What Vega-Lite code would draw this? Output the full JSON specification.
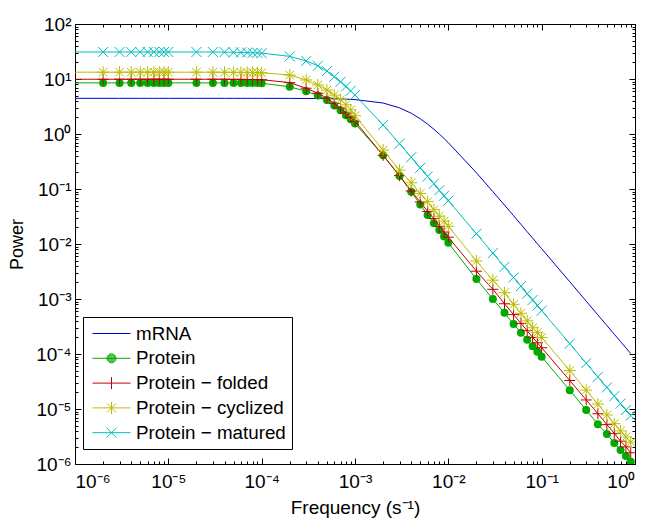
{
  "$schema": "https://vega.github.io/schema/vega-lite/v6.json",
  "width": 560,
  "height": 440,
  "autosize": {"type": "none"},
  "padding": {"left": 75, "top": 24, "right": 14, "bottom": 56},
  "background": "white",
  "config": {
    "view": {"stroke": "#000", "strokeWidth": 1},
    "font": "Liberation Sans",
    "axis": {"labelFont": "Liberation Sans", "labelFontSize": 18, "labelColor": "#000", "titleFont": "Liberation Sans", "titleFontSize": 18, "titleFontWeight": "normal", "titleColor": "#000", "grid": false, "domain": false, "tickColor": "#000", "tickWidth": 1}
  },
  "datasets": {
    "mrna": [
      {"s":"mRNA","f":1e-6,"p":4.45},{"s":"mRNA","f":2e-6,"p":4.45},{"s":"mRNA","f":3e-6,"p":4.45},{"s":"mRNA","f":4e-6,"p":4.45},{"s":"mRNA","f":5e-6,"p":4.45},{"s":"mRNA","f":6e-6,"p":4.45},{"s":"mRNA","f":7e-6,"p":4.45},{"s":"mRNA","f":8e-6,"p":4.45},{"s":"mRNA","f":9e-6,"p":4.45},
      {"s":"mRNA","f":1e-5,"p":4.45},{"s":"mRNA","f":2e-5,"p":4.45},{"s":"mRNA","f":3e-5,"p":4.45},{"s":"mRNA","f":4e-5,"p":4.45},{"s":"mRNA","f":5e-5,"p":4.45},{"s":"mRNA","f":6e-5,"p":4.45},{"s":"mRNA","f":7e-5,"p":4.45},{"s":"mRNA","f":8e-5,"p":4.45},{"s":"mRNA","f":9e-5,"p":4.45},
      {"s":"mRNA","f":1e-4,"p":4.45},{"s":"mRNA","f":2e-4,"p":4.44},{"s":"mRNA","f":3e-4,"p":4.43},{"s":"mRNA","f":4e-4,"p":4.41},{"s":"mRNA","f":5e-4,"p":4.39},{"s":"mRNA","f":6e-4,"p":4.36},{"s":"mRNA","f":7e-4,"p":4.34},{"s":"mRNA","f":8e-4,"p":4.30},{"s":"mRNA","f":9e-4,"p":4.26},
      {"s":"mRNA","f":1e-3,"p":4.22},{"s":"mRNA","f":2e-3,"p":3.66},{"s":"mRNA","f":3e-3,"p":2.99},{"s":"mRNA","f":4e-3,"p":2.39},{"s":"mRNA","f":5e-3,"p":1.89},{"s":"mRNA","f":6e-3,"p":1.51},{"s":"mRNA","f":7e-3,"p":1.22},{"s":"mRNA","f":8e-3,"p":0.998},{"s":"mRNA","f":9e-3,"p":0.827},
      {"s":"mRNA","f":1e-2,"p":0.694},{"s":"mRNA","f":2e-2,"p":0.197},{"s":"mRNA","f":3e-2,"p":0.0895},{"s":"mRNA","f":4e-2,"p":0.0509},{"s":"mRNA","f":5e-2,"p":0.0327},{"s":"mRNA","f":6e-2,"p":0.0227},{"s":"mRNA","f":7e-2,"p":0.0167},{"s":"mRNA","f":8e-2,"p":0.0128},{"s":"mRNA","f":9e-2,"p":0.0101},
      {"s":"mRNA","f":0.1,"p":0.00821},{"s":"mRNA","f":0.2,"p":0.00206},{"s":"mRNA","f":0.3,"p":0.000914},{"s":"mRNA","f":0.4,"p":0.000514},{"s":"mRNA","f":0.5,"p":0.000329},{"s":"mRNA","f":0.6,"p":0.000229},{"s":"mRNA","f":0.7,"p":0.000168},{"s":"mRNA","f":0.8,"p":0.000129},{"s":"mRNA","f":0.9,"p":0.000102}
    ],
    "protein": [
      {"s":"Protein","f":1e-6,"p":8.5},{"s":"Protein","f":2e-6,"p":8.5},{"s":"Protein","f":3e-6,"p":8.5},{"s":"Protein","f":4e-6,"p":8.5},{"s":"Protein","f":5e-6,"p":8.5},{"s":"Protein","f":6e-6,"p":8.5},{"s":"Protein","f":7e-6,"p":8.5},{"s":"Protein","f":8e-6,"p":8.5},{"s":"Protein","f":9e-6,"p":8.5},
      {"s":"Protein","f":1e-5,"p":8.5},{"s":"Protein","f":2e-5,"p":8.5},{"s":"Protein","f":3e-5,"p":8.5},{"s":"Protein","f":4e-5,"p":8.5},{"s":"Protein","f":5e-5,"p":8.5},{"s":"Protein","f":6e-5,"p":8.5},{"s":"Protein","f":7e-5,"p":8.5},{"s":"Protein","f":8e-5,"p":8.45},{"s":"Protein","f":9e-5,"p":8.45},
      {"s":"Protein","f":1e-4,"p":8.4},{"s":"Protein","f":2e-4,"p":7.2},{"s":"Protein","f":3e-4,"p":6.0},{"s":"Protein","f":4e-4,"p":5.0},{"s":"Protein","f":5e-4,"p":4.15},{"s":"Protein","f":6e-4,"p":3.3},{"s":"Protein","f":7e-4,"p":2.7},{"s":"Protein","f":8e-4,"p":2.2},{"s":"Protein","f":9e-4,"p":1.85},
      {"s":"Protein","f":1e-3,"p":1.55},{"s":"Protein","f":2e-3,"p":0.41},{"s":"Protein","f":3e-3,"p":0.172},{"s":"Protein","f":4e-3,"p":0.089},{"s":"Protein","f":5e-3,"p":0.052},{"s":"Protein","f":6e-3,"p":0.0336},{"s":"Protein","f":7e-3,"p":0.0238},{"s":"Protein","f":8e-3,"p":0.018},{"s":"Protein","f":9e-3,"p":0.0137},
      {"s":"Protein","f":1e-2,"p":0.0105},{"s":"Protein","f":2e-2,"p":0.0023},{"s":"Protein","f":3e-2,"p":0.001},{"s":"Protein","f":4e-2,"p":0.00056},{"s":"Protein","f":5e-2,"p":0.00035},{"s":"Protein","f":6e-2,"p":0.000244},{"s":"Protein","f":7e-2,"p":0.000182},{"s":"Protein","f":8e-2,"p":0.000138},{"s":"Protein","f":9e-2,"p":0.00011},
      {"s":"Protein","f":0.1,"p":0.000089},{"s":"Protein","f":0.2,"p":0.000022},{"s":"Protein","f":0.3,"p":0.0000096},{"s":"Protein","f":0.4,"p":0.0000053},{"s":"Protein","f":0.5,"p":0.0000035},{"s":"Protein","f":0.6,"p":0.0000024},{"s":"Protein","f":0.7,"p":0.0000018},{"s":"Protein","f":0.8,"p":0.0000014},{"s":"Protein","f":0.9,"p":0.0000011}
    ],
    "folded": [
      {"s":"Protein − folded","f":1e-6,"p":9.9},{"s":"Protein − folded","f":2e-6,"p":9.9},{"s":"Protein − folded","f":3e-6,"p":9.9},{"s":"Protein − folded","f":4e-6,"p":9.9},{"s":"Protein − folded","f":5e-6,"p":9.9},{"s":"Protein − folded","f":6e-6,"p":9.9},{"s":"Protein − folded","f":7e-6,"p":9.9},{"s":"Protein − folded","f":8e-6,"p":9.9},{"s":"Protein − folded","f":9e-6,"p":9.9},
      {"s":"Protein − folded","f":1e-5,"p":9.9},{"s":"Protein − folded","f":2e-5,"p":9.9},{"s":"Protein − folded","f":3e-5,"p":9.9},{"s":"Protein − folded","f":4e-5,"p":9.9},{"s":"Protein − folded","f":5e-5,"p":9.85},{"s":"Protein − folded","f":6e-5,"p":9.85},{"s":"Protein − folded","f":7e-5,"p":9.8},{"s":"Protein − folded","f":8e-5,"p":9.8},{"s":"Protein − folded","f":9e-5,"p":9.75},
      {"s":"Protein − folded","f":1e-4,"p":9.7},{"s":"Protein − folded","f":2e-4,"p":8.6},{"s":"Protein − folded","f":3e-4,"p":6.8},{"s":"Protein − folded","f":4e-4,"p":5.5},{"s":"Protein − folded","f":5e-4,"p":4.5},{"s":"Protein − folded","f":6e-4,"p":3.6},{"s":"Protein − folded","f":7e-4,"p":2.95},{"s":"Protein − folded","f":8e-4,"p":2.4},{"s":"Protein − folded","f":9e-4,"p":2.0},
      {"s":"Protein − folded","f":1e-3,"p":1.7},{"s":"Protein − folded","f":2e-3,"p":0.41},{"s":"Protein − folded","f":3e-3,"p":0.175},{"s":"Protein − folded","f":4e-3,"p":0.092},{"s":"Protein − folded","f":5e-3,"p":0.058},{"s":"Protein − folded","f":6e-3,"p":0.039},{"s":"Protein − folded","f":7e-3,"p":0.029},{"s":"Protein − folded","f":8e-3,"p":0.021},{"s":"Protein − folded","f":9e-3,"p":0.0165},
      {"s":"Protein − folded","f":1e-2,"p":0.0133},{"s":"Protein − folded","f":2e-2,"p":0.0032},{"s":"Protein − folded","f":3e-2,"p":0.0015},{"s":"Protein − folded","f":4e-2,"p":0.00082},{"s":"Protein − folded","f":5e-2,"p":0.00052},{"s":"Protein − folded","f":6e-2,"p":0.00036},{"s":"Protein − folded","f":7e-2,"p":0.000265},{"s":"Protein − folded","f":8e-2,"p":0.0002},{"s":"Protein − folded","f":9e-2,"p":0.00016},
      {"s":"Protein − folded","f":0.1,"p":0.00013},{"s":"Protein − folded","f":0.2,"p":0.000033},{"s":"Protein − folded","f":0.3,"p":0.0000146},{"s":"Protein − folded","f":0.4,"p":0.0000082},{"s":"Protein − folded","f":0.5,"p":0.0000052},{"s":"Protein − folded","f":0.6,"p":0.0000036},{"s":"Protein − folded","f":0.7,"p":0.0000026},{"s":"Protein − folded","f":0.8,"p":0.00000205},{"s":"Protein − folded","f":0.9,"p":0.0000016}
    ],
    "cyclized": [
      {"s":"Protein − cyclized","f":1e-6,"p":13.3},{"s":"Protein − cyclized","f":2e-6,"p":13.3},{"s":"Protein − cyclized","f":3e-6,"p":13.3},{"s":"Protein − cyclized","f":4e-6,"p":13.3},{"s":"Protein − cyclized","f":5e-6,"p":13.3},{"s":"Protein − cyclized","f":6e-6,"p":13.3},{"s":"Protein − cyclized","f":7e-6,"p":13.3},{"s":"Protein − cyclized","f":8e-6,"p":13.3},{"s":"Protein − cyclized","f":9e-6,"p":13.3},
      {"s":"Protein − cyclized","f":1e-5,"p":13.3},{"s":"Protein − cyclized","f":2e-5,"p":13.3},{"s":"Protein − cyclized","f":3e-5,"p":13.3},{"s":"Protein − cyclized","f":4e-5,"p":13.25},{"s":"Protein − cyclized","f":5e-5,"p":13.2},{"s":"Protein − cyclized","f":6e-5,"p":13.2},{"s":"Protein − cyclized","f":7e-5,"p":13.15},{"s":"Protein − cyclized","f":8e-5,"p":13.1},{"s":"Protein − cyclized","f":9e-5,"p":13.05},
      {"s":"Protein − cyclized","f":1e-4,"p":13.0},{"s":"Protein − cyclized","f":2e-4,"p":11.8},{"s":"Protein − cyclized","f":3e-4,"p":9.6},{"s":"Protein − cyclized","f":4e-4,"p":7.8},{"s":"Protein − cyclized","f":5e-4,"p":6.3},{"s":"Protein − cyclized","f":6e-4,"p":5.1},{"s":"Protein − cyclized","f":7e-4,"p":4.2},{"s":"Protein − cyclized","f":8e-4,"p":3.4},{"s":"Protein − cyclized","f":9e-4,"p":2.75},
      {"s":"Protein − cyclized","f":1e-3,"p":2.15},{"s":"Protein − cyclized","f":2e-3,"p":0.51},{"s":"Protein − cyclized","f":3e-3,"p":0.22},{"s":"Protein − cyclized","f":4e-3,"p":0.13},{"s":"Protein − cyclized","f":5e-3,"p":0.083},{"s":"Protein − cyclized","f":6e-3,"p":0.059},{"s":"Protein − cyclized","f":7e-3,"p":0.042},{"s":"Protein − cyclized","f":8e-3,"p":0.032},{"s":"Protein − cyclized","f":9e-3,"p":0.026},
      {"s":"Protein − cyclized","f":1e-2,"p":0.021},{"s":"Protein − cyclized","f":2e-2,"p":0.0049},{"s":"Protein − cyclized","f":3e-2,"p":0.0022},{"s":"Protein − cyclized","f":4e-2,"p":0.0013},{"s":"Protein − cyclized","f":5e-2,"p":0.0008},{"s":"Protein − cyclized","f":6e-2,"p":0.00055},{"s":"Protein − cyclized","f":7e-2,"p":0.0004},{"s":"Protein − cyclized","f":8e-2,"p":0.0003},{"s":"Protein − cyclized","f":9e-2,"p":0.000245},
      {"s":"Protein − cyclized","f":0.1,"p":0.0002},{"s":"Protein − cyclized","f":0.2,"p":0.00005},{"s":"Protein − cyclized","f":0.3,"p":0.000022},{"s":"Protein − cyclized","f":0.4,"p":0.0000123},{"s":"Protein − cyclized","f":0.5,"p":0.0000078},{"s":"Protein − cyclized","f":0.6,"p":0.0000054},{"s":"Protein − cyclized","f":0.7,"p":0.000004},{"s":"Protein − cyclized","f":0.8,"p":0.0000031},{"s":"Protein − cyclized","f":0.9,"p":0.0000025}
    ],
    "matured": [
      {"s":"Protein − matured","f":1e-6,"p":31},{"s":"Protein − matured","f":2e-6,"p":31},{"s":"Protein − matured","f":3e-6,"p":31},{"s":"Protein − matured","f":4e-6,"p":31},{"s":"Protein − matured","f":5e-6,"p":31},{"s":"Protein − matured","f":6e-6,"p":31},{"s":"Protein − matured","f":7e-6,"p":31},{"s":"Protein − matured","f":8e-6,"p":31},{"s":"Protein − matured","f":9e-6,"p":31},
      {"s":"Protein − matured","f":1e-5,"p":31},{"s":"Protein − matured","f":2e-5,"p":31},{"s":"Protein − matured","f":3e-5,"p":31},{"s":"Protein − matured","f":4e-5,"p":30.8},{"s":"Protein − matured","f":5e-5,"p":30.6},{"s":"Protein − matured","f":6e-5,"p":30.4},{"s":"Protein − matured","f":7e-5,"p":30.2},{"s":"Protein − matured","f":8e-5,"p":29.9},{"s":"Protein − matured","f":9e-5,"p":29.8},
      {"s":"Protein − matured","f":1e-4,"p":29.5},{"s":"Protein − matured","f":2e-4,"p":25.8},{"s":"Protein − matured","f":3e-4,"p":21.3},{"s":"Protein − matured","f":4e-4,"p":17.4},{"s":"Protein − matured","f":5e-4,"p":13.9},{"s":"Protein − matured","f":6e-4,"p":11.0},{"s":"Protein − matured","f":7e-4,"p":8.9},{"s":"Protein − matured","f":8e-4,"p":7.3},{"s":"Protein − matured","f":9e-4,"p":6.1},
      {"s":"Protein − matured","f":1e-3,"p":5.1},{"s":"Protein − matured","f":2e-3,"p":1.46},{"s":"Protein − matured","f":3e-3,"p":0.665},{"s":"Protein − matured","f":4e-3,"p":0.378},{"s":"Protein − matured","f":5e-3,"p":0.243},{"s":"Protein − matured","f":6e-3,"p":0.169},{"s":"Protein − matured","f":7e-3,"p":0.125},{"s":"Protein − matured","f":8e-3,"p":0.095},{"s":"Protein − matured","f":9e-3,"p":0.0755},
      {"s":"Protein − matured","f":1e-2,"p":0.0612},{"s":"Protein − matured","f":2e-2,"p":0.0154},{"s":"Protein − matured","f":3e-2,"p":0.00683},{"s":"Protein − matured","f":4e-2,"p":0.00384},{"s":"Protein − matured","f":5e-2,"p":0.00246},{"s":"Protein − matured","f":6e-2,"p":0.00171},{"s":"Protein − matured","f":7e-2,"p":0.00125},{"s":"Protein − matured","f":8e-2,"p":0.00096},{"s":"Protein − matured","f":9e-2,"p":0.00076},
      {"s":"Protein − matured","f":0.1,"p":0.000615},{"s":"Protein − matured","f":0.2,"p":0.000154},{"s":"Protein − matured","f":0.3,"p":0.000068},{"s":"Protein − matured","f":0.4,"p":0.0000384},{"s":"Protein − matured","f":0.5,"p":0.0000246},{"s":"Protein − matured","f":0.6,"p":0.0000171},{"s":"Protein − matured","f":0.7,"p":0.0000125},{"s":"Protein − matured","f":0.8,"p":0.0000096},{"s":"Protein − matured","f":0.9,"p":0.0000076}
    ]
  },
  "resolve": {"axis": {"x": "independent", "y": "independent"}},
  "layer": [
    {
      "data": {"name": "mrna"},
      "mark": {"type": "line", "color": "#0000cc", "strokeWidth": 1, "clip": true},
      "encoding": {
        "x": {"field": "f", "type": "quantitative", "scale": {"type": "log", "domain": [1e-6, 1], "nice": false},
              "axis": {"orient": "bottom", "values": [1e-6, 1e-5, 1e-4, 1e-3, 1e-2, 1e-1, 1], "ticks": false, "labelPadding": 8, "labelFontSize": 19, "labelExpr": "'10' + (datum.value < 1 ? '⁻' : '') + '⁰¹²³⁴⁵⁶⁷⁸⁹'[abs(round(log(datum.value)/LN10))]", "title": "Frequency (s⁻¹)", "titleFontSize": 19, "titlePadding": 7}},
        "y": {"field": "p", "type": "quantitative", "scale": {"type": "log", "domain": [1e-6, 100], "nice": false},
              "axis": {"orient": "left", "values": [1e-6, 1e-5, 1e-4, 1e-3, 1e-2, 1e-1, 1, 10, 100], "ticks": false, "labelPadding": 4, "labelFontSize": 19, "labelExpr": "'10' + (datum.value < 1 ? '⁻' : '') + '⁰¹²³⁴⁵⁶⁷⁸⁹'[abs(round(log(datum.value)/LN10))]", "title": "Power", "titlePadding": 9}}
      }
    },
    {
      "data": {"name": "protein"},
      "mark": {"type": "line", "color": "#00aa00", "strokeWidth": 1, "clip": true},
      "encoding": {
        "x": {"field": "f", "type": "quantitative", "scale": {"type": "log", "domain": [1e-6, 1], "nice": false},
              "axis": {"orient": "bottom", "values": [1e-6, 1e-5, 1e-4, 1e-3, 1e-2, 1e-1, 1], "labels": false, "ticks": true, "tickSize": -6, "title": null}},
        "y": {"field": "p", "type": "quantitative", "scale": {"type": "log", "domain": [1e-6, 100], "nice": false},
              "axis": {"orient": "left", "values": [1e-6, 1e-5, 1e-4, 1e-3, 1e-2, 1e-1, 1, 10, 100], "labels": false, "ticks": true, "tickSize": -6, "title": null}}
      }
    },
    {
      "data": {"name": "protein"},
      "transform": [{"filter": "datum.f > 1.5e-6"}],
      "mark": {"type": "point", "shape": "circle", "filled": true, "color": "#00aa00", "size": 64, "opacity": 1, "clip": true},
      "encoding": {
        "x": {"field": "f", "type": "quantitative", "scale": {"type": "log", "domain": [1e-6, 1], "nice": false},
              "axis": {"orient": "bottom", "values": [2e-6,3e-6,4e-6,5e-6,6e-6,7e-6,8e-6,9e-6,2e-5,3e-5,4e-5,5e-5,6e-5,7e-5,8e-5,9e-5,2e-4,3e-4,4e-4,5e-4,6e-4,7e-4,8e-4,9e-4,2e-3,3e-3,4e-3,5e-3,6e-3,7e-3,8e-3,9e-3,2e-2,3e-2,4e-2,5e-2,6e-2,7e-2,8e-2,9e-2,0.2,0.3,0.4,0.5,0.6,0.7,0.8,0.9], "labels": false, "ticks": true, "tickSize": -3, "title": null}},
        "y": {"field": "p", "type": "quantitative", "scale": {"type": "log", "domain": [1e-6, 100], "nice": false},
              "axis": {"orient": "left", "values": [2e-6,3e-6,4e-6,5e-6,6e-6,7e-6,8e-6,9e-6,2e-5,3e-5,4e-5,5e-5,6e-5,7e-5,8e-5,9e-5,2e-4,3e-4,4e-4,5e-4,6e-4,7e-4,8e-4,9e-4,2e-3,3e-3,4e-3,5e-3,6e-3,7e-3,8e-3,9e-3,2e-2,3e-2,4e-2,5e-2,6e-2,7e-2,8e-2,9e-2,0.2,0.3,0.4,0.5,0.6,0.7,0.8,0.9,2,3,4,5,6,7,8,9,20,30,40,50,60,70,80,90], "labels": false, "ticks": true, "tickSize": -3, "title": null}}
      }
    },
    {
      "data": {"name": "folded"},
      "mark": {"type": "line", "color": "#c00000", "strokeWidth": 1, "clip": true},
      "encoding": {
        "x": {"field": "f", "type": "quantitative", "scale": {"type": "log", "domain": [1e-6, 1], "nice": false},
              "axis": {"orient": "top", "values": [1e-6, 1e-5, 1e-4, 1e-3, 1e-2, 1e-1, 1], "labels": false, "ticks": true, "tickSize": -6, "title": null}},
        "y": {"field": "p", "type": "quantitative", "scale": {"type": "log", "domain": [1e-6, 100], "nice": false},
              "axis": {"orient": "right", "values": [1e-6, 1e-5, 1e-4, 1e-3, 1e-2, 1e-1, 1, 10, 100], "labels": false, "ticks": true, "tickSize": -6, "title": null}}
      }
    },
    {
      "data": {"name": "folded"},
      "transform": [{"filter": "datum.f > 1.5e-6"}],
      "mark": {"type": "point", "shape": "M-1,0H1M0,-1V1", "filled": false, "color": "#c00000", "size": 121, "strokeWidth": 1, "opacity": 1, "clip": true},
      "encoding": {
        "x": {"field": "f", "type": "quantitative", "scale": {"type": "log", "domain": [1e-6, 1], "nice": false},
              "axis": {"orient": "top", "values": [2e-6,3e-6,4e-6,5e-6,6e-6,7e-6,8e-6,9e-6,2e-5,3e-5,4e-5,5e-5,6e-5,7e-5,8e-5,9e-5,2e-4,3e-4,4e-4,5e-4,6e-4,7e-4,8e-4,9e-4,2e-3,3e-3,4e-3,5e-3,6e-3,7e-3,8e-3,9e-3,2e-2,3e-2,4e-2,5e-2,6e-2,7e-2,8e-2,9e-2,0.2,0.3,0.4,0.5,0.6,0.7,0.8,0.9], "labels": false, "ticks": true, "tickSize": -3, "title": null}},
        "y": {"field": "p", "type": "quantitative", "scale": {"type": "log", "domain": [1e-6, 100], "nice": false},
              "axis": {"orient": "right", "values": [2e-6,3e-6,4e-6,5e-6,6e-6,7e-6,8e-6,9e-6,2e-5,3e-5,4e-5,5e-5,6e-5,7e-5,8e-5,9e-5,2e-4,3e-4,4e-4,5e-4,6e-4,7e-4,8e-4,9e-4,2e-3,3e-3,4e-3,5e-3,6e-3,7e-3,8e-3,9e-3,2e-2,3e-2,4e-2,5e-2,6e-2,7e-2,8e-2,9e-2,0.2,0.3,0.4,0.5,0.6,0.7,0.8,0.9,2,3,4,5,6,7,8,9,20,30,40,50,60,70,80,90], "labels": false, "ticks": true, "tickSize": -3, "title": null}}
      }
    },
    {
      "data": {"name": "cyclized"},
      "mark": {"type": "line", "color": "#bcbc00", "strokeWidth": 1, "clip": true},
      "encoding": {
        "x": {"field": "f", "type": "quantitative", "scale": {"type": "log", "domain": [1e-6, 1], "nice": false}, "axis": null},
        "y": {"field": "p", "type": "quantitative", "scale": {"type": "log", "domain": [1e-6, 100], "nice": false}, "axis": null}
      }
    },
    {
      "data": {"name": "cyclized"},
      "transform": [{"filter": "datum.f > 1.5e-6"}],
      "mark": {"type": "point", "shape": "M-1,0H1M0,-1V1M-0.71,-0.71L0.71,0.71M-0.71,0.71L0.71,-0.71", "filled": false, "color": "#bcbc00", "size": 144, "strokeWidth": 1, "opacity": 1, "clip": true},
      "encoding": {
        "x": {"field": "f", "type": "quantitative", "scale": {"type": "log", "domain": [1e-6, 1], "nice": false}, "axis": null},
        "y": {"field": "p", "type": "quantitative", "scale": {"type": "log", "domain": [1e-6, 100], "nice": false}, "axis": null}
      }
    },
    {
      "data": {"name": "matured"},
      "mark": {"type": "line", "color": "#00bcbc", "strokeWidth": 1, "clip": true},
      "encoding": {
        "x": {"field": "f", "type": "quantitative", "scale": {"type": "log", "domain": [1e-6, 1], "nice": false}, "axis": null},
        "y": {"field": "p", "type": "quantitative", "scale": {"type": "log", "domain": [1e-6, 100], "nice": false}, "axis": null}
      }
    },
    {
      "data": {"name": "matured"},
      "transform": [{"filter": "datum.f > 1.5e-6"}],
      "mark": {"type": "point", "shape": "M-1,-1L1,1M-1,1L1,-1", "filled": false, "color": "#00bcbc", "size": 100, "strokeWidth": 1, "opacity": 1, "clip": true},
      "encoding": {
        "x": {"field": "f", "type": "quantitative", "scale": {"type": "log", "domain": [1e-6, 1], "nice": false}, "axis": null},
        "y": {"field": "p", "type": "quantitative", "scale": {"type": "log", "domain": [1e-6, 100], "nice": false}, "axis": null}
      }
    },
    {
      "data": {"name": "mrna"},
      "transform": [{"filter": "false"}],
      "mark": {"type": "point", "filled": false, "strokeWidth": 1, "opacity": 1},
      "encoding": {
        "x": {"field": "f", "type": "quantitative", "scale": {"type": "log", "domain": [1e-6, 1], "nice": false}, "axis": null},
        "y": {"field": "p", "type": "quantitative", "scale": {"type": "log", "domain": [1e-6, 100], "nice": false}, "axis": null},
        "color": {"field": "s", "type": "nominal",
          "scale": {"domain": ["mRNA", "Protein", "Protein − folded", "Protein − cyclized", "Protein − matured"], "range": ["#0000cc", "#00aa00", "#c00000", "#bcbc00", "#00bcbc"]},
          "legend": {"title": null, "orient": "none", "legendX": 8, "legendY": 293, "padding": 6, "rowPadding": 3.8, "symbolSize": 400, "symbolStrokeWidth": 1, "labelFontSize": 18.8, "labelFont": "Liberation Sans", "labelColor": "#000", "labelOffset": 26, "strokeColor": "#000", "fillColor": "#fff", "cornerRadius": 0}},
        "shape": {"field": "s", "type": "nominal",
          "scale": {"domain": ["mRNA", "Protein", "Protein − folded", "Protein − cyclized", "Protein − matured"],
                    "range": ["M-0.7,0H3.1",
                              "M-0.7,0H3.1M1.65,0A0.45,0.45,0,1,1,0.75,0A0.45,0.45,0,1,1,1.65,0M1.55,0A0.35,0.35,0,1,1,0.85,0A0.35,0.35,0,1,1,1.55,0M1.45,0A0.25,0.25,0,1,1,0.95,0A0.25,0.25,0,1,1,1.45,0M1.35,0A0.15,0.15,0,1,1,1.05,0A0.15,0.15,0,1,1,1.35,0M1.25,0A0.05,0.05,0,1,1,1.15,0A0.05,0.05,0,1,1,1.25,0",
                              "M-0.7,0H3.1M1.2,-0.6V0.6",
                              "M-0.7,0H3.1M1.2,-0.6V0.6M0.75,-0.45L1.65,0.45M0.75,0.45L1.65,-0.45",
                              "M-0.7,0H3.1M0.7,-0.5L1.7,0.5M0.7,0.5L1.7,-0.5"]},
          "legend": {"title": null, "orient": "none", "legendX": 8, "legendY": 293, "padding": 6, "rowPadding": 3.8, "symbolSize": 400, "symbolStrokeWidth": 1, "labelFontSize": 18.8, "labelFont": "Liberation Sans", "labelColor": "#000", "labelOffset": 26, "strokeColor": "#000", "fillColor": "#fff", "cornerRadius": 0}}
      }
    }
  ]
}
